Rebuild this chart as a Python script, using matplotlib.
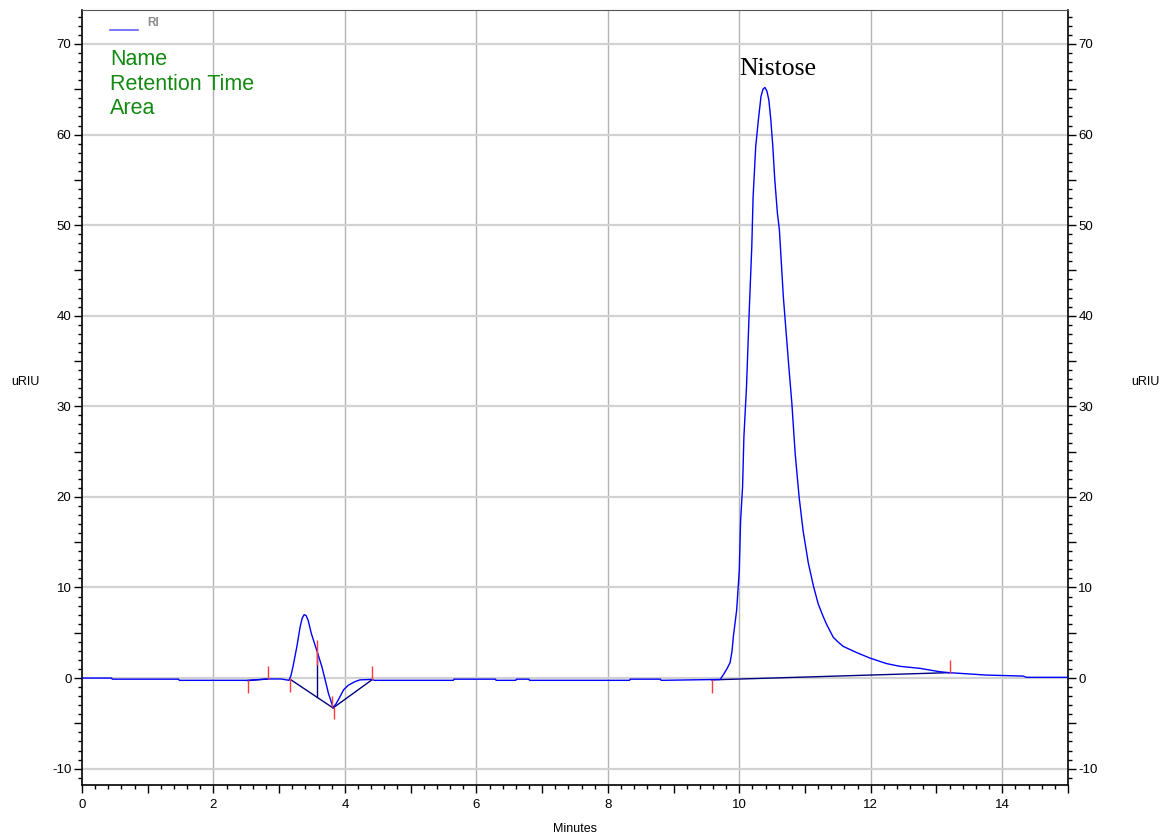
import matplotlib

matplotlib.use("Agg")
import matplotlib.pyplot as plt
from matplotlib.lines import Line2D
from matplotlib.ticker import FuncFormatter, MultipleLocator

# --- data (minutes, uRIU) ---
rt = [0.0, 0.45, 0.46, 1.47, 1.48, 2.50, 2.83, 3.03, 3.15, 3.18, 3.21, 3.27,
      3.32, 3.35, 3.38, 3.41, 3.44, 3.49, 3.57, 3.65, 3.70, 3.75, 3.82, 3.86,
      3.90, 3.98, 4.05, 4.15, 4.23, 4.41, 4.45, 5.65, 5.66, 6.29, 6.30, 6.60,
      6.61, 6.80, 6.81, 8.33, 8.34, 8.80, 8.81, 9.71, 9.76, 9.81, 9.86, 9.89,
      9.91, 9.96, 10.00, 10.02, 10.05, 10.07, 10.11, 10.15, 10.19, 10.21,
      10.25, 10.29, 10.33, 10.36, 10.39, 10.42, 10.45, 10.48, 10.51, 10.54,
      10.58, 10.61, 10.64, 10.67, 10.71, 10.75, 10.80, 10.85, 10.91, 10.97,
      11.05, 11.13, 11.20, 11.27, 11.33, 11.43, 11.50, 11.58, 11.79, 11.99,
      12.24, 12.44, 12.75, 13.05, 13.20, 13.36, 13.76, 14.32, 14.37, 15.0]
signal = [0.0, 0.0, -0.12, -0.12, -0.25, -0.25, -0.1, -0.1, -0.25, 0.3, 1.25,
          3.5, 5.7, 6.6, 7.0, 6.9, 6.4, 4.9, 3.1, 1.25, -0.2, -1.7, -3.25,
          -2.9, -2.4, -1.3, -0.8, -0.4, -0.2, -0.15, -0.25, -0.25, -0.12, -0.12,
          -0.25, -0.25, -0.12, -0.12, -0.25, -0.25, -0.12, -0.12, -0.25, -0.15,
          0.4, 1.0, 1.7, 3.0, 4.6, 7.5, 11.9, 17.4, 21.1, 26.6, 32.2, 40.3,
          47.6, 53.1, 58.7, 61.6, 64.2, 65.0, 65.2, 64.8, 63.8, 61.6, 58.7,
          55.0, 51.3, 49.5, 45.8, 42.1, 38.4, 34.7, 30.3, 24.8, 20.0, 16.3,
          12.7, 10.1, 8.2, 6.9, 5.9, 4.5, 4.0, 3.5, 2.8, 2.2, 1.6, 1.3, 1.07,
          0.7, 0.59, 0.52, 0.33, 0.22, 0.08, 0.08]

# integration baselines: (x0, y0, x1, y1)
baselines = [
    (2.52, -0.28, 2.83, -0.1),
    (3.16, -0.1, 3.82, -3.3),
    (3.82, -3.3, 4.41, -0.2),
    (9.58, -0.2, 13.20, 0.6),
]
# drop line between the two small peaks
drop_x = 3.57
drop_top = 2.8
drop_bottom = -2.09

# peak start / end markers (x, y from, y to)
marker_x = [2.52, 2.83, 3.16, 3.57, 3.80, 3.84, 4.41, 9.58, 13.20]
marker_y0 = [-0.2, -0.1, 0.0, 1.4, -2.0, -3.2, -0.2, -0.2, 0.6]
marker_y1 = [-1.6, 1.3, -1.5, 4.2, -3.2, -4.5, 1.3, -1.6, 2.0]

peak_name = "Nistose"
peak_label_x = 10.59
peak_label_y = 66.6

header_lines = ["Name", "Retention Time", "Area"]

# --- figure ---
plt.rcParams["font.family"] = ["Liberation Sans", "DejaVu Sans"]
fig = plt.figure(figsize=(11.71, 8.34), dpi=100)
ax = fig.add_axes([0.0700, 0.0588, 0.8420, 0.9292])

ax.set_xlim(0, 15)
ax.set_ylim(-11.8, 73.75)

# grid lines: vertical every 2 min, horizontal every 10 uRIU
for gx in range(2, 15, 2):
    ax.axvline(gx, color="#b4b4b4", lw=1.0, zorder=0)
for gy in range(-10, 71, 10):
    ax.axhline(gy, color="#d2d2d2", lw=1.6, zorder=0)

# trace
ax.plot(rt, signal, color="#0000ff", lw=1.0, zorder=3)

# baselines + drop line
for x0, y0, x1, y1 in baselines:
    ax.plot([x0, x1], [y0, y1], color="#000080", lw=1.0, zorder=2)
ax.plot([drop_x, drop_x], [drop_top, drop_bottom], color="#000080", lw=1.0, zorder=2)

# red event markers
ax.vlines(marker_x, marker_y0, marker_y1, colors="#ff3a3a", lw=1.0, zorder=4)

# peak name
ax.text(peak_label_x, peak_label_y, peak_name, family=["Liberation Serif", "DejaVu Serif"],
        fontsize=18.5, ha="center", va="baseline", color="black")

# legend-like header
ax.add_line(Line2D([0.0284, 0.0568], [0.974, 0.974], transform=ax.transAxes,
                   color="#6060ff", lw=1.2))
ax.text(0.0660, 0.983, "RI", transform=ax.transAxes, fontsize=8.5, fontweight="bold",
        color="#8c8c8c", ha="left", va="center")
for i, s in enumerate(header_lines):
    ax.text(0.0284, 0.9355 - i * 0.0316, s, transform=ax.transAxes, fontsize=15.5,
            color="#128a12", ha="left", va="center")

# ticks
ax.xaxis.set_major_locator(MultipleLocator(1))
ax.xaxis.set_minor_locator(MultipleLocator(0.2))
ax.xaxis.set_major_formatter(FuncFormatter(lambda v, p: f"{v:.0f}" if round(v) % 2 == 0 else ""))
ax.yaxis.set_major_locator(MultipleLocator(5))
ax.yaxis.set_minor_locator(MultipleLocator(1))
ax.yaxis.set_major_formatter(FuncFormatter(lambda v, p: f"{v:.0f}" if round(v) % 10 == 0 else ""))

ax.tick_params(which="major", length=6, width=1, direction="out", labelsize=9.5)
ax.tick_params(which="minor", length=3, width=1, direction="out")
ax.tick_params(axis="y", which="both", left=True, right=True, labelleft=True,
               labelright=True, pad=1.5)
ax.tick_params(axis="x", which="both", top=False, pad=4)

for side in ["left", "bottom", "right"]:
    ax.spines[side].set_color("black")
    ax.spines[side].set_linewidth(1.2)
ax.spines["top"].set_color("#555555")

ax.set_xlabel("Minutes", fontsize=9, labelpad=9)
fig.text(25 / 1171, 1 - 382 / 834, "uRIU", fontsize=9, ha="center", va="center")
fig.text(1145 / 1171, 1 - 382 / 834, "uRIU", fontsize=9, ha="center", va="center")

fig.savefig("out.png", dpi=100)
plt.close("all")
